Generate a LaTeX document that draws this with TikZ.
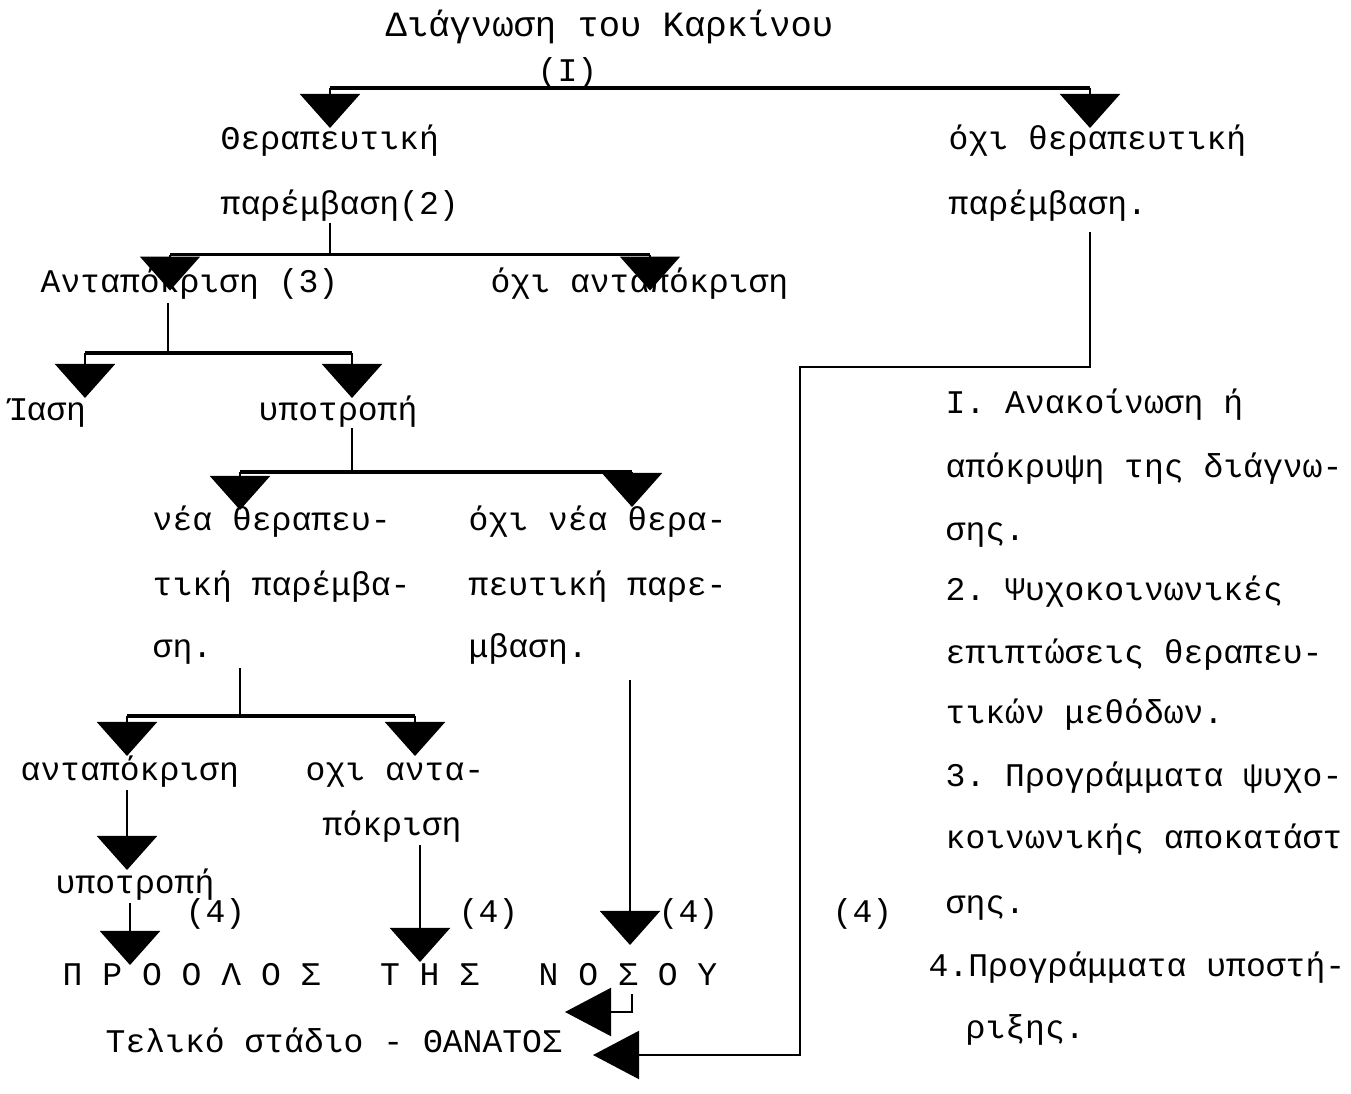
\documentclass[tikz,border=0pt]{standalone}
\usepackage{fontspec}
\setmainfont{Liberation Mono}
\usetikzlibrary{arrows.meta}
\tikzset{
  txt/.style={anchor=base west, inner sep=0pt},
  link/.style={line width=0.6pt},
  bar/.style={line width=1pt},
  drop/.style={line width=0.6pt, -{Triangle[width=0.6cm, length=0.34cm]}},
  side/.style={line width=0.6pt, -{Triangle[width=0.48cm, length=0.46cm]}},
}
\begin{document}
\frenchspacing
\begin{tikzpicture}[x=0.01cm, y=-0.01cm, font=\fontsize{9.4}{11}\selectfont]
  \fill[white] (0,0) rectangle (1351,1094);
  % tree texts
  \node[txt, font=\fontsize{10.1}{12}\selectfont] (title) at (385,37) {Διάγνωση του Καρκίνου};
  \node[txt] (one) at (537,82) {(I)};
  \node[txt] (therA) at (220,150) {Θεραπευτική};
  \node[txt] (therB) at (220,215) {παρέμβαση(2)};
  \node[txt] (notherA) at (948,150) {όχι θεραπευτική};
  \node[txt] (notherB) at (948,215) {παρέμβαση.};
  \node[txt] (resp) at (40,293) {Ανταπόκριση (3)};
  \node[txt] (noresp) at (490,293) {όχι ανταπόκριση};
  \node[txt] (cure) at (6,420) {Ίαση};
  \node[txt] (rel) at (258,420) {υποτροπή};
  \node[txt] (newA) at (152,530) {νέα θεραπευ-};
  \node[txt] (newB) at (152,595) {τική παρέμβα-};
  \node[txt] (newC) at (152,657) {ση.};
  \node[txt] (nonewA) at (468,530) {όχι νέα θερα-};
  \node[txt] (nonewB) at (468,595) {πευτική παρε-};
  \node[txt] (nonewC) at (468,657) {μβαση.};
  \node[txt] (resp2) at (20,780) {ανταπόκριση};
  \node[txt] (noresp2A) at (305,780) {οχι αντα-};
  \node[txt] (noresp2B) at (322,835) {πόκριση};
  \node[txt] (rel2) at (55,893) {υποτροπή};
  \node[txt] (fourA) at (185,922) {(4)};
  \node[txt] (fourB) at (458,922) {(4)};
  \node[txt] (fourC) at (658,922) {(4)};
  \node[txt] (fourD) at (832,922) {(4)};
  \node[txt] (prog) at (62,985) {Π Ρ Ο Ο Λ Ο Σ~~~Τ Η Σ~~~Ν Ο Σ Ο Υ};
  \node[txt] (final) at (105,1052) {Τελικό στάδιο - ΘΑΝΑΤΟΣ};
  % notes on the right
  \node[txt] (noteA) at (945,413) {Ι. Ανακοίνωση ή};
  \node[txt] (noteB) at (945,478) {απόκρυψη της διάγνω-};
  \node[txt] (noteC) at (945,540) {σης.};
  \node[txt] (noteD) at (945,600) {2. Ψυχοκοινωνικές};
  \node[txt] (noteE) at (945,663) {επιπτώσεις θεραπευ-};
  \node[txt] (noteF) at (945,723) {τικών μεθόδων.};
  \node[txt] (noteG) at (945,786) {3. Προγράμματα ψυχο-};
  \node[txt] (noteH) at (945,848) {κοινωνικής αποκατάστ};
  \node[txt] (noteI) at (945,913) {σης.};
  \node[txt] (noteJ) at (928,976) {4.Προγράμματα υποστή-};
  \node[txt] (noteK) at (965,1038) {ριξης.};
  % connectors
  \coordinate (t0) at (330,88);
  \coordinate (t1) at (1090,88);
  \draw[bar, line width=1.3pt] (t0) -- (t1);
  \draw[drop] (t0) -- ++(0,40);
  \draw[drop] (t1) -- ++(0,40);
  \draw[link] (therB.south -| t0) -- ++(0,32) coordinate (u0);
  \draw[bar] (u0) -- ++(-160,0) coordinate (u1) (u0) -- ++(320,0) coordinate (u2);
  \draw[drop] (u1) -- ++(0,36);
  \draw[drop] (u2) -- ++(0,36);
  \coordinate (v0) at (1090,232);
  \draw[side] (v0) -- ++(0,135) -| ++(-290,688) -- ++(-207,0);
  \coordinate (r0) at (168,303);
  \draw[link] (r0) -- ++(0,50) coordinate (r1);
  \draw[bar] (r1) -- ++(-83,0) coordinate (r2) (r1) -- ++(184,0) coordinate (r3);
  \draw[drop] (r2) -- ++(0,45);
  \draw[drop] (r3) -- ++(0,45);
  \coordinate (s0) at (352,428);
  \draw[link] (s0) -- ++(0,44) coordinate (s1);
  \draw[bar] (s1) -- ++(-112,0) coordinate (s2) (s1) -- ++(280,0) coordinate (s3);
  \draw[drop] (s2) -- ++(0,38);
  \draw[drop] (s3) -- ++(0,35);
  \coordinate (p0) at (240,668);
  \draw[link] (p0) -- ++(0,48) coordinate (p1);
  \draw[bar] (p1) -- ++(-113,0) coordinate (p2) (p1) -- ++(175,0) coordinate (p3);
  \draw[drop] (p2) -- ++(0,40);
  \draw[drop] (p3) -- ++(0,40);
  \coordinate (q0) at (127,790);
  \draw[drop] (q0) -- ++(0,80);
  \coordinate (q1) at (130,903);
  \draw[drop] (q1) -- ++(0,62);
  \coordinate (q2) at (420,845);
  \draw[drop] (q2) -- ++(0,117);
  \coordinate (q3) at (630,680);
  \draw[drop] (q3) -- ++(0,265);
  \coordinate (w0) at (632,994);
  \draw[side] (w0) |- ++(-67,18);
\end{tikzpicture}
\end{document}
